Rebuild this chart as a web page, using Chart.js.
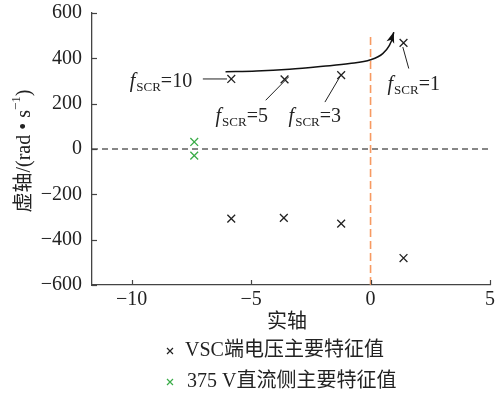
<!DOCTYPE html>
<html><head><meta charset="utf-8">
<script src="https://cdn.jsdelivr.net/npm/chart.js@4.4.0/dist/chart.umd.min.js"></script>
<style>html,body{margin:0;padding:0;background:#fff}</style>
</head><body>
<canvas id="c" width="499" height="397" style="display:block"></canvas>
<script>
// ---- data ----
const vscX = [-5.83, -3.60, -1.23, 1.38, -5.83, -3.63, -1.23, 1.38];
const vscY = [309, 307, 326, 468, -307, -304, -329, -481];
const dcX = [-7.38, -7.38];
const dcY = [31, -29];
const curveX = [-6.07, -4.78, -3.39, -1.99, -0.88, 0.00, 0.51, 0.79, 0.93, 0.97];
const curveY = [341, 344, 352, 365, 377, 394, 421, 457, 494, 516];
const zeroLineX = [-11.66, 5];
const zeroLineY = [0, 0];
const stabX = [0, 0];
const stabY = [-600, 510];
const leaderX = [[-7.02, -6.01], [-4.39, -3.43], [-1.91, -1.27], [1.60, 1.35]];
const leaderY = [[309, 309], [215, 318], [207, 321], [355, 450]];
const scrValues = ['10', '5', '3', '1'];
const scrLabelX = [-10.08, -6.49, -3.43, 0.71];
const scrLabelY = [272, 120, 118, 259];
const xTicks = [-10, -5, 0, 5];
const yTicks = [-600, -400, -200, 0, 200, 400, 600];
const seriesNames = ['VSC端电压主要特征值', '375 V直流侧主要特征值'];
const xTitle = '实轴';

const SERIF = '"Liberation Serif", "Noto Sans CJK SC", serif';
const BLACK = '#222222';
const GREEN = '#3aac48';
const ORANGE = '#f79a62';

const pts = (xs, ys) => xs.map((x, i) => ({x, y: ys[i]}));

const datasets = [
  {label: seriesNames[0], type: 'scatter', data: pts(vscX, vscY), pointStyle: 'crossRot', pointRadius: 5.5, borderColor: BLACK, borderWidth: 1.3, backgroundColor: BLACK},
  {label: seriesNames[1], type: 'scatter', data: pts(dcX, dcY), pointStyle: 'crossRot', pointRadius: 5.5, borderColor: GREEN, borderWidth: 1.3, backgroundColor: GREEN},
  {label: 'zero', type: 'line', data: pts(zeroLineX, zeroLineY), borderColor: '#111', borderWidth: 1.2, borderDash: [6, 4], pointRadius: 0},
  {label: 'stab', type: 'line', data: pts(stabX, stabY), borderColor: ORANGE, borderWidth: 1.6, borderDash: [8, 4], pointRadius: 0},
  {label: 'curve', type: 'line', data: pts(curveX, curveY), borderColor: '#111', borderWidth: 1.5, pointRadius: 0, cubicInterpolationMode: 'monotone'},
];
leaderX.forEach((lx, i) => datasets.push({label: 'leader' + i, type: 'line', data: pts(lx, leaderY[i]), borderColor: '#222', borderWidth: 1, pointRadius: 0}));

const tickFont = {family: SERIF, size: 20};

const overlay = {
  id: 'overlay',
  afterDraw(chart) {
    const {ctx, chartArea: a, scales: {x, y}} = chart;
    ctx.save();
    // inward ticks
    ctx.strokeStyle = '#444'; ctx.lineWidth = 1.2;
    xTicks.forEach(v => { const p = Math.round(x.getPixelForValue(v)) + 0.5; ctx.beginPath(); ctx.moveTo(p, a.bottom); ctx.lineTo(p, a.bottom - 5); ctx.stroke(); });
    yTicks.forEach(v => { const p = Math.round(y.getPixelForValue(v)) + 0.5; ctx.beginPath(); ctx.moveTo(a.left, p); ctx.lineTo(a.left + 5, p); ctx.stroke(); });
    // arrow head at end of curve
    const n = curveX.length;
    const tx = x.getPixelForValue(curveX[n - 1]), ty = y.getPixelForValue(curveY[n - 1]);
    const bx = x.getPixelForValue(curveX[n - 3]), by = y.getPixelForValue(curveY[n - 3]);
    const ang = Math.atan2(ty - by, tx - bx);
    ctx.fillStyle = '#111';
    ctx.beginPath();
    ctx.moveTo(tx, ty);
    ctx.lineTo(tx - 11 * Math.cos(ang) + 4 * Math.sin(ang), ty - 11 * Math.sin(ang) - 4 * Math.cos(ang));
    ctx.lineTo(tx - 8 * Math.cos(ang), ty - 8 * Math.sin(ang));
    ctx.lineTo(tx - 11 * Math.cos(ang) - 4 * Math.sin(ang), ty - 11 * Math.sin(ang) + 4 * Math.cos(ang));
    ctx.closePath(); ctx.fill();
    // f_SCR labels
    ctx.fillStyle = '#222'; ctx.textBaseline = 'alphabetic'; ctx.textAlign = 'left';
    scrValues.forEach((val, i) => {
      let px = x.getPixelForValue(scrLabelX[i]);
      const py = y.getPixelForValue(scrLabelY[i]);
      ctx.font = 'italic 20px ' + SERIF; ctx.fillText('f', px, py); px += ctx.measureText('f').width + 1;
      ctx.font = '13px ' + SERIF; ctx.fillText('SCR', px, py + 4); px += ctx.measureText('SCR').width;
      ctx.font = '20px ' + SERIF; ctx.fillText('=' + val, px, py);
    });
    // x title
    ctx.font = '20px ' + SERIF; ctx.textAlign = 'center'; ctx.textBaseline = 'middle';
    ctx.fillText(xTitle, (a.left + a.right) / 2 - 4, 323);
    // y title (rotated)
    ctx.translate(25, (a.top + a.bottom) / 2 + 2);
    ctx.rotate(-Math.PI / 2);
    const parts = [['虚轴/(rad • s', '20px', 0], ['−1', '13px', -8], [')', '20px', 0]];
    let total = 0;
    parts.forEach(p => { ctx.font = p[1] + ' ' + SERIF; total += ctx.measureText(p[0]).width; });
    let cx = -total / 2;
    ctx.textAlign = 'left';
    parts.forEach(p => { ctx.font = p[1] + ' ' + SERIF; ctx.fillText(p[0], cx, p[2]); cx += ctx.measureText(p[0]).width; });
    ctx.setTransform(1, 0, 0, 1, 0, 0);
    // legend
    const legY = [351, 382], legCol = [BLACK, GREEN];
    legY.forEach((ly, i) => {
      ctx.strokeStyle = legCol[i]; ctx.lineWidth = 1.2;
      ctx.beginPath(); ctx.moveTo(167, ly - 3); ctx.lineTo(173, ly + 3); ctx.moveTo(173, ly - 3); ctx.lineTo(167, ly + 3); ctx.stroke();
      ctx.fillStyle = '#222'; ctx.font = '20px ' + SERIF; ctx.textAlign = 'left'; ctx.textBaseline = 'middle';
      ctx.fillText(seriesNames[i], i === 0 ? 185 : 187, ly);
    });
    ctx.restore();
  }
};

new Chart(document.getElementById('c'), {
  type: 'scatter',
  data: {datasets},
  options: {
    responsive: false, animation: false, devicePixelRatio: 1,
    layout: {padding: {top: 13, right: 9, left: 0, bottom: 0}},
    plugins: {legend: {display: false}, tooltip: {enabled: false}},
    scales: {
      x: {
        type: 'linear', min: -11.66, max: 5,
        afterBuildTicks: s => { s.ticks = xTicks.map(v => ({value: v})); },
        afterFit: s => { s.height = 112; s.paddingLeft = 0; s.paddingRight = 0; },
        ticks: {font: tickFont, color: '#222', padding: 3, callback: v => v < 0 ? '−' + Math.abs(v) : String(v)},
        grid: {display: true, drawOnChartArea: false, drawTicks: false},
        border: {display: true, color: '#444', width: 1.3}
      },
      y: {
        type: 'linear', min: -600, max: 600,
        afterBuildTicks: s => { s.ticks = yTicks.map(v => ({value: v})); },
        afterFit: s => { s.width = 92; s.paddingTop = 0; s.paddingBottom = 0; },
        ticks: {font: tickFont, color: '#222', padding: 10, callback: v => v < 0 ? '−' + Math.abs(v) : String(v)},
        grid: {display: true, drawOnChartArea: false, drawTicks: false},
        border: {display: true, color: '#444', width: 1.3}
      }
    }
  },
  plugins: [overlay]
});
</script>
</body></html>
